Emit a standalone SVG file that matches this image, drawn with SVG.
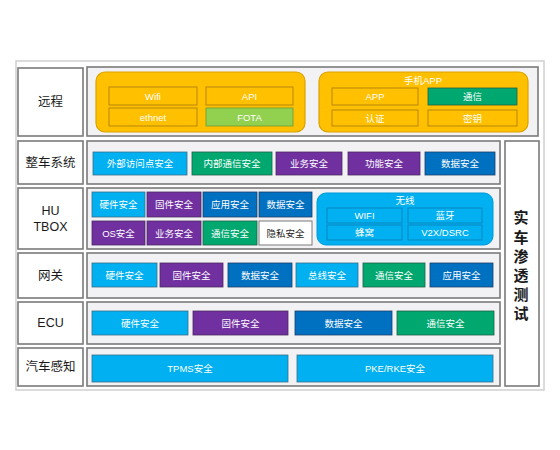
<svg xmlns="http://www.w3.org/2000/svg" width="560" height="450" viewBox="0 0 560 450">
<defs>
<style>
.frame{fill:none;stroke:#d0d0d0;stroke-width:1.5}
.lbl{fill:#ffffff;stroke:#7a7a7a;stroke-width:1.6}
.cnt{fill:#f2f2f4;stroke:#7a7a7a;stroke-width:1.6}
.lt{font-family:"Liberation Sans","Noto Sans CJK SC",sans-serif;font-size:12.5px;fill:#1a1a1a;text-anchor:middle;dominant-baseline:central}
.ct{font-family:"Liberation Sans","Noto Sans CJK SC",sans-serif;font-size:9.5px;fill:#ffffff;text-anchor:middle;dominant-baseline:central}
.dk{fill:#222222}
.yel{fill:#FFC000;stroke:#D9A200;stroke-width:1.2}
.yc{fill:#FFC000;stroke:#B8860B;stroke-width:1}
.lb{fill:#00B0F0;stroke:#3a6f8a;stroke-width:0.8}
.pu{fill:#7030A0;stroke:#4a2a60;stroke-width:0.8}
.db{fill:#0070C0;stroke:#1d3f66;stroke-width:0.8}
.gr{fill:#00A870;stroke:#1f5f48;stroke-width:0.8}
.lg{fill:#92D050;stroke:#6a9a3a;stroke-width:0.8}
.wh{fill:#ffffff;stroke:#7a7a7a;stroke-width:1}
.wl{fill:#00B0F0;stroke:#0098D8;stroke-width:1}
.wc{fill:none;stroke:#0a86bf;stroke-width:1}
</style>
</defs>
<rect width="560" height="450" fill="#ffffff"/>
<rect class="frame" x="16" y="61" width="528" height="329"/>

<g id="row-remote">
<rect class="lbl" x="18" y="68" width="65" height="68"/>
<text class="lt" x="50.5" y="102">远程</text>
<rect class="cnt" x="87" y="67" width="451" height="69"/>
<g id="remote-box">
<rect class="yel" x="96" y="72" width="209" height="60" rx="9"/>
<rect class="yc" x="109" y="87" width="88" height="18"/>
<text class="ct" x="153" y="96">Wifi</text>
<rect class="yc" x="206" y="87" width="87" height="18"/>
<text class="ct" x="249.5" y="96">API</text>
<rect class="yc" x="109" y="108" width="88" height="18"/>
<text class="ct" x="153" y="117">ethnet</text>
<rect class="lg" x="206" y="108" width="87" height="18"/>
<text class="ct" x="249.5" y="117">FOTA</text>
</g>
<g id="app-box">
<rect class="yel" x="319" y="72" width="209" height="60" rx="9"/>
<text class="ct" x="423" y="80">手机APP</text>
<rect class="yc" x="332" y="88" width="86" height="17"/>
<text class="ct" x="375" y="96.5">APP</text>
<rect class="gr" x="428" y="88" width="89" height="17"/>
<text class="ct" x="472.5" y="96.5">通信</text>
<rect class="yc" x="332" y="110" width="86" height="16"/>
<text class="ct" x="375" y="118">认证</text>
<rect class="yc" x="428" y="110" width="89" height="16"/>
<text class="ct" x="472.5" y="118">密钥</text>
</g>
</g>

<g id="row-vehicle">
<rect class="lbl" x="18" y="141" width="65" height="43"/>
<text class="lt" x="50.5" y="162.5">整车系统</text>
<rect class="cnt" x="87" y="141" width="413" height="43"/>
<rect class="lb" x="93" y="152" width="94" height="23"/>
<text class="ct" x="140" y="163.5">外部访问点安全</text>
<rect class="gr" x="192" y="152" width="80" height="23"/>
<text class="ct" x="232" y="163.5">内部通信安全</text>
<rect class="pu" x="276" y="152" width="66" height="23"/>
<text class="ct" x="309" y="163.5">业务安全</text>
<rect class="pu" x="348" y="152" width="72" height="23"/>
<text class="ct" x="384" y="163.5">功能安全</text>
<rect class="db" x="425" y="152" width="70" height="23"/>
<text class="ct" x="460" y="163.5">数据安全</text>
</g>

<g id="row-hutbox">
<rect class="lbl" x="18" y="188" width="65" height="61"/>
<text class="lt" x="50.5" y="211">HU</text>
<text class="lt" x="50.5" y="227">TBOX</text>
<rect class="cnt" x="87" y="188" width="413" height="61"/>
<rect class="lb" x="92" y="192" width="53" height="25"/>
<text class="ct" x="118.5" y="204.5">硬件安全</text>
<rect class="pu" x="147" y="192" width="54" height="25"/>
<text class="ct" x="174" y="204.5">固件安全</text>
<rect class="db" x="203" y="192" width="54" height="25"/>
<text class="ct" x="230" y="204.5">应用安全</text>
<rect class="db" x="259" y="192" width="53" height="25"/>
<text class="ct" x="285.5" y="204.5">数据安全</text>
<rect class="pu" x="92" y="221" width="53" height="24"/>
<text class="ct" x="118.5" y="233">OS安全</text>
<rect class="pu" x="147" y="221" width="54" height="24"/>
<text class="ct" x="174" y="233">业务安全</text>
<rect class="gr" x="203" y="221" width="54" height="24"/>
<text class="ct" x="230" y="233">通信安全</text>
<rect class="wh" x="259" y="221" width="53" height="24"/>
<text class="ct dk" x="285.5" y="233">隐私安全</text>
<g id="wireless">
<rect class="wl" x="317" y="193" width="176" height="52" rx="9"/>
<text class="ct" x="405" y="200">无线</text>
<rect class="wc" x="327" y="208" width="75" height="15"/>
<text class="ct" x="364.5" y="215.5">WIFI</text>
<rect class="wc" x="408" y="208" width="74" height="15"/>
<text class="ct" x="445" y="215.5">蓝牙</text>
<rect class="wc" x="327" y="225" width="75" height="15"/>
<text class="ct" x="364.5" y="232.5">蜂窝</text>
<rect class="wc" x="408" y="225" width="74" height="15"/>
<text class="ct" x="445" y="232.5">V2X/DSRC</text>
</g>
</g>

<g id="row-gateway">
<rect class="lbl" x="18" y="253" width="65" height="45"/>
<text class="lt" x="50.5" y="275.5">网关</text>
<rect class="cnt" x="87" y="253" width="413" height="45"/>
<rect class="lb" x="92" y="263" width="65" height="24"/>
<text class="ct" x="124.5" y="275">硬件安全</text>
<rect class="pu" x="160" y="263" width="63" height="24"/>
<text class="ct" x="191.5" y="275">固件安全</text>
<rect class="db" x="228" y="263" width="64" height="24"/>
<text class="ct" x="260" y="275">数据安全</text>
<rect class="lb" x="296" y="263" width="62" height="24"/>
<text class="ct" x="327" y="275">总线安全</text>
<rect class="gr" x="363" y="263" width="62" height="24"/>
<text class="ct" x="394" y="275">通信安全</text>
<rect class="db" x="430" y="263" width="63" height="24"/>
<text class="ct" x="461.5" y="275">应用安全</text>
</g>

<g id="row-ecu">
<rect class="lbl" x="18" y="302" width="65" height="42"/>
<text class="lt" x="50.5" y="323">ECU</text>
<rect class="cnt" x="87" y="302" width="413" height="42"/>
<rect class="lb" x="92" y="311" width="96" height="24"/>
<text class="ct" x="140" y="323">硬件安全</text>
<rect class="pu" x="193" y="311" width="95" height="24"/>
<text class="ct" x="240.5" y="323">固件安全</text>
<rect class="db" x="295" y="311" width="97" height="24"/>
<text class="ct" x="343.5" y="323">数据安全</text>
<rect class="gr" x="397" y="311" width="97" height="24"/>
<text class="ct" x="445.5" y="323">通信安全</text>
</g>

<g id="row-sensing">
<rect class="lbl" x="18" y="348" width="65" height="38"/>
<text class="lt" x="50.5" y="367">汽车感知</text>
<rect class="cnt" x="87" y="348" width="413" height="38"/>
<rect class="lb" x="92" y="355" width="196" height="27"/>
<text class="ct" x="190" y="368.5">TPMS安全</text>
<rect class="lb" x="297" y="355" width="196" height="27"/>
<text class="ct" x="395" y="368.5">PKE/RKE安全</text>
</g>

<g id="pentest">
<rect class="lbl" x="505" y="141" width="34" height="245"/>
<text class="lt" x="521" y="217" style="font-size:15px;font-weight:bold">实</text>
<text class="lt" x="521" y="237" style="font-size:15px;font-weight:bold">车</text>
<text class="lt" x="521" y="256" style="font-size:15px;font-weight:bold">渗</text>
<text class="lt" x="521" y="275" style="font-size:15px;font-weight:bold">透</text>
<text class="lt" x="521" y="294" style="font-size:15px;font-weight:bold">测</text>
<text class="lt" x="521" y="313" style="font-size:15px;font-weight:bold">试</text>
</g>
<g id="connectors"/>
</svg>
